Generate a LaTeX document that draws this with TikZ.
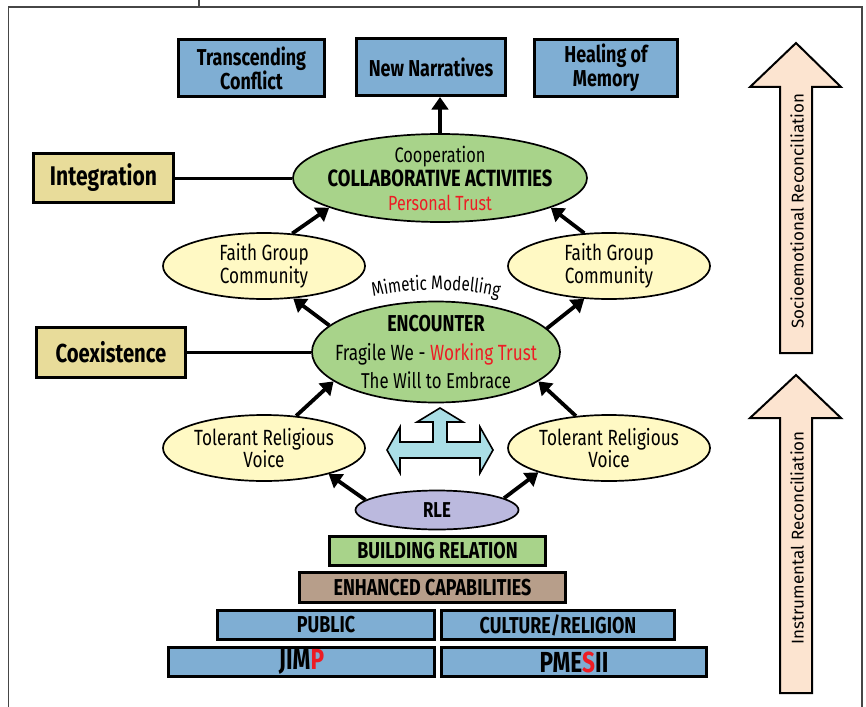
\documentclass[tikz,border=0pt]{standalone}
\usepackage{fontspec}
\setmainfont{Fira Sans}[FakeStretch=0.78]
\newfontfamily\sidefont{Fira Sans}
\usetikzlibrary{arrows.meta,shapes.geometric,decorations.text}
\definecolor{boxblue}{RGB}{127,174,211}
\definecolor{khaki}{RGB}{232,220,154}
\definecolor{leafgreen}{RGB}{168,211,138}
\definecolor{paleyellow}{RGB}{255,249,196}
\definecolor{lavender}{RGB}{187,185,222}
\definecolor{clay}{RGB}{183,158,138}
\definecolor{peach}{RGB}{252,228,208}
\definecolor{icecyan}{RGB}{170,222,230}
\definecolor{alertred}{RGB}{237,28,36}
\definecolor{framegray}{RGB}{70,70,70}
\begin{document}
\begin{tikzpicture}[x=1pt,y=1pt,
  boxbase/.style={draw=black, line width=2.6pt, inner sep=0pt, align=center, font=\bfseries\fontsize{23}{24}\selectfont},
  bluebox/.style={boxbase, fill=boxblue},
  khakibox/.style={boxbase, fill=khaki},
  pyr/.style={boxbase, minimum height=29.5pt, font=\bfseries\fontsize{23}{24}\selectfont},
  ellbase/.style={ellipse, draw=black, line width=1.7pt, inner xsep=-60pt, inner ysep=-30pt, align=center},
  greenell/.style={ellbase, fill=leafgreen},
  yellell/.style={ellbase, fill=paleyellow, font=\fontsize{22}{21.5}\selectfont},
  arr/.style={-{Triangle[length=12.5pt,width=16.5pt]}, line width=3.8pt},
  link/.style={line width=3pt},
  bigarrow/.style={draw=black, line width=2pt, fill=peach, line join=miter},
  sidetext/.style={rotate=90, font=\sidefont\fontsize{17}{19}\selectfont}
]
\useasboundingbox (0,0) rectangle (866,-706);
% frame
\draw[framegray, line width=1.3pt] (8.5,-712) -- (8.5,-7) -- (862,-7) -- (862,-712);
\draw[framegray, line width=1.3pt] (199,0) -- (199,-7);

% top boxes
\node[bluebox, minimum width=146.5pt, minimum height=57.5pt] (tc) at (251.5,-68) {Transcending\\Conflict};
\node[bluebox, minimum width=149.5pt, minimum height=57.5pt] (nn) at (431,-67) {New Narratives};
\node[bluebox, minimum width=143.5pt, minimum height=57.5pt] (hm) at (606,-68) {Healing of\\Memory};

% side boxes
\node[khakibox, minimum width=140.5pt, minimum height=49.5pt, font=\bfseries\fontsize{27}{28}\selectfont] (integ) at (103.5,-178) {Integration};
\node[khakibox, minimum width=149.5pt, minimum height=50.5pt, font=\bfseries\fontsize{26}{28}\selectfont] (coex) at (111,-352.5) {Coexistence};

% ellipses
\node[greenell, minimum width=294pt, minimum height=88pt, font=\fontsize{21}{24}\selectfont] (coop) at (440,-178)
  {Cooperation\\
   {\bfseries\fontsize{23.5}{24}\selectfont COLLABORATIVE ACTIVITIES}\\
   {\fontsize{20.5}{24}\selectfont\color{alertred}Personal Trust}};
\node[yellell, minimum width=202pt, minimum height=66pt] (fgL) at (264,-266) {Faith Group\\Community};
\node[yellell, minimum width=202pt, minimum height=66pt] (fgR) at (609,-266) {Faith Group\\Community};
\node[greenell, minimum width=248pt, minimum height=101pt, font=\fontsize{22}{28.5}\selectfont] (enc) at (436,-352)
  {{\bfseries\fontsize{23}{28.5}\selectfont ENCOUNTER}\\
   Fragile We - \textcolor{alertred}{Working Trust}\\
   {\fontsize{21.5}{28.5}\selectfont The Will to Embrace}};
\node[yellell, minimum width=202pt, minimum height=66pt] (trvL) at (264,-448) {Tolerant Religious\\Voice};
\node[yellell, minimum width=202pt, minimum height=66pt] (trvR) at (609,-448) {Tolerant Religious\\Voice};
\node[ellbase, fill=lavender, minimum width=163pt, minimum height=39pt, font=\bfseries\fontsize{21.5}{22}\selectfont] (rle) at (437,-510) {RLE};

% Mimetic Modelling arched label
\path[decorate, decoration={text along path, text align=center, text={|\fontsize{19.5}{20}\selectfont|Mimetic Modelling}}]
  (366,-299) .. controls (402,-287) and (470,-287) .. (506,-299);

% pyramid
\node[pyr, fill=leafgreen, minimum width=216.5pt] (br) at (437.5,-551) {BUILDING RELATION};
\node[pyr, fill=clay, minimum width=266.5pt] (ec) at (432.5,-587.5) {ENHANCED CAPABILITIES};
\node[pyr, fill=boxblue, minimum width=217.5pt] (pub) at (326,-625) {PUBLIC};
\node[pyr, fill=boxblue, minimum width=233.5pt] (cr) at (558,-625) {CULTURE/RELIGION};
\node[pyr, fill=boxblue, minimum width=266.5pt, font=\bfseries\fontsize{29}{30}\selectfont] (jimp) at (301.5,-662) {JIM\textcolor{alertred}{P}};
\node[pyr, fill=boxblue, minimum width=265.5pt, font=\bfseries\fontsize{29}{30}\selectfont] (pm) at (574,-662) {PME\textcolor{alertred}{S}II};

% cross arrow
\draw[draw=black, line width=1.6pt, fill=icecyan, line join=miter] (440,-408) -- (463,-422) -- (447,-422) -- (447,-442) -- (480,-442) -- (480,-427) -- (493,-450) -- (480,-473) -- (480,-458) -- (400,-458) -- (400,-473) -- (387,-450) -- (400,-427) -- (400,-442) -- (433,-442) -- (433,-422) -- (417,-422) -- cycle;

% side peach arrows
\draw[bigarrow] (796,-43) -- (841,-87) -- (812,-87) -- (812,-353) -- (780,-353) -- (780,-87) -- (750,-87) -- cycle;
\draw[bigarrow] (796,-375) -- (841,-418) -- (812,-418) -- (812,-693) -- (780,-693) -- (780,-418) -- (750,-418) -- cycle;
\node[sidetext] (socio) at (797,-211) {Socioemotional Reconciliation};
\node[sidetext] (instr) at (797,-538) {Instrumental Reconciliation};

% connectors
\draw[link] (integ.east) -- (coop.west);
\draw[link] (coex.east) -- (coex.east -| enc.west);
\draw[arr] (coop.north) -- (coop.north |- nn.south);
\draw[arr] (fgL.49) -- (coop.195);
\draw[arr] (fgR.127) -- (coop.345);
\draw[arr] (enc.166) -- (fgL.312);
\draw[arr] (enc.12) -- (fgR.233);
\draw[arr] (trvL.45) -- (enc.196);
\draw[arr] (trvR.136) -- (enc.344);
\draw[arr] (rle.172) -- (trvL.338);
\draw[arr] (rle.10) -- (trvR.199);
\end{tikzpicture}
\end{document}
